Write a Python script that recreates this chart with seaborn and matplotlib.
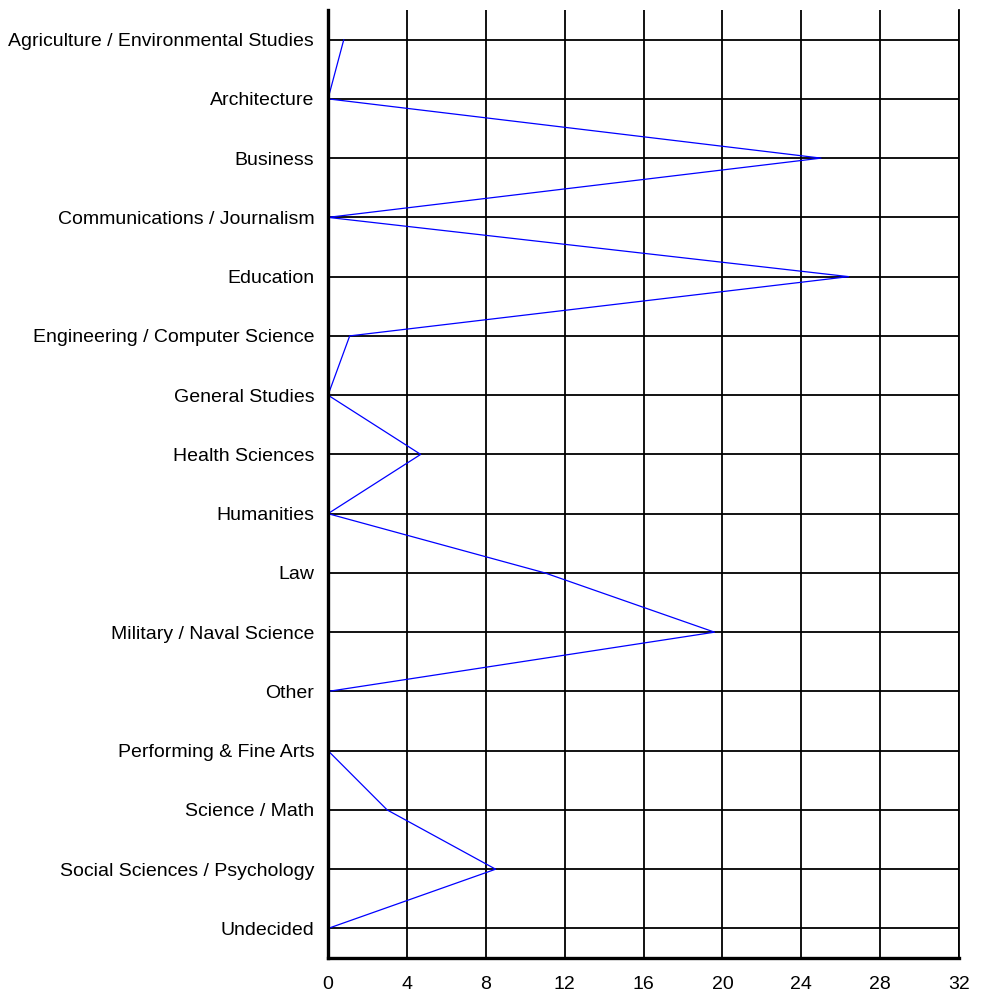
import pandas as pd
import matplotlib
matplotlib.use('Agg')
import matplotlib.pyplot as plt
import seaborn as sns

# ----------------------------------------------------------------------------------
# data
# ----------------------------------------------------------------------------------
majors = [
    'Agriculture / Environmental Studies',
    'Architecture',
    'Business',
    'Communications / Journalism',
    'Education',
    'Engineering / Computer Science',
    'General Studies',
    'Health Sciences',
    'Humanities',
    'Law',
    'Military / Naval Science',
    'Other',
    'Performing & Fine Arts',
    'Science / Math',
    'Social Sciences / Psychology',
    'Undecided',
]
percent = [0.8, 0.0, 25.0, 0.0, 26.4, 1.1, 0.0, 4.7, 0.0, 11.0, 19.6, 0.0, 0.0, 3.0, 8.5, 0.0]
x_ticks = [0, 4, 8, 12, 16, 20, 24, 28, 32]

df = pd.DataFrame({'major': majors, 'percent': percent})

# ----------------------------------------------------------------------------------
# plot
# ----------------------------------------------------------------------------------
sns.set_style('white')
plt.rcParams['font.family'] = ['Liberation Sans', 'DejaVu Sans']

fig = plt.figure(figsize=(9.88, 9.98), dpi=100)
ax = fig.add_axes([0.332, 0.04, 0.6387, 0.95])

sns.lineplot(data=df, x='percent', y='major', orient='y', sort=False,
             color='blue', linewidth=0.9, ax=ax)

ax.set_xlim(0, 32)
ax.set_xticks(x_ticks)
ax.set_ylim(len(majors) - 0.5, -0.5)
ax.set_xlabel('')
ax.set_ylabel('')

ax.set_axisbelow(True)
ax.grid(True, color='black', linewidth=1.3)
ax.tick_params(axis='both', length=0, labelsize=14, labelcolor='black')
ax.tick_params(axis='y', pad=10)
ax.tick_params(axis='x', pad=13)

for side in ['left', 'bottom']:
    ax.spines[side].set_color('black')
    ax.spines[side].set_linewidth(2.4)
ax.spines['right'].set_color('black')
ax.spines['right'].set_linewidth(1.3)
ax.spines['top'].set_visible(False)

plt.savefig('out.png', dpi=100)
